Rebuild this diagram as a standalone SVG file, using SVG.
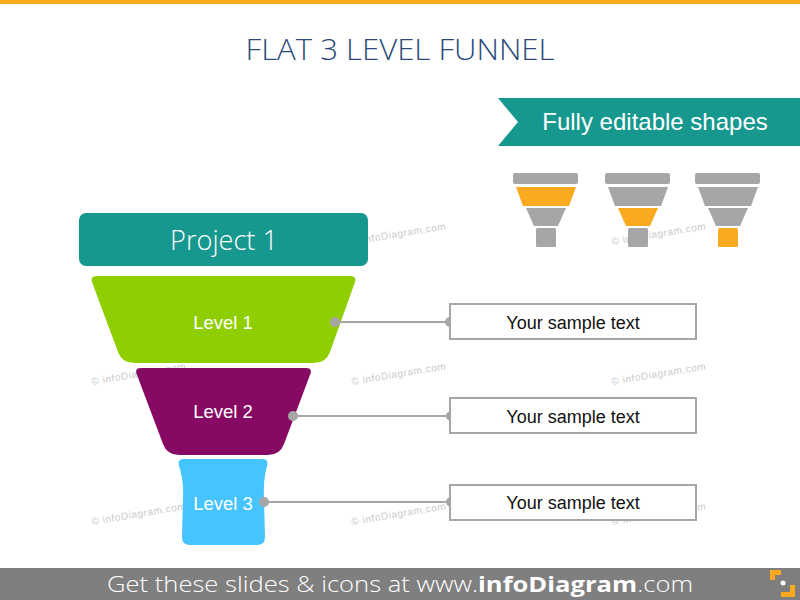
<svg xmlns="http://www.w3.org/2000/svg" width="800" height="600" viewBox="0 0 800 600">
<defs>
<style>
.wm{font-family:"Liberation Sans",Arial,sans-serif;font-size:10px;fill:#c9c9c9;letter-spacing:0.6px}
.lbl{font-family:"Liberation Sans",Arial,sans-serif;font-size:18.5px;fill:#ffffff;text-anchor:middle}
.box{fill:#ffffff;stroke:#a6a6a6;stroke-width:2}
.btxt{font-family:"Liberation Sans",Arial,sans-serif;font-size:18px;fill:#111111;text-anchor:middle}
.conn{stroke:#a6a6a6;stroke-width:2;fill:none}
.dot{fill:#a6a6a6}
.g{fill:#a6a6a8}
.o{fill:#fbaa1f}
.light{font-family:"Open Sans","Liberation Sans",Arial,sans-serif;font-weight:300}
</style>
</defs>
<rect x="0" y="0" width="800" height="600" fill="#ffffff"/>
<rect x="0" y="0" width="800" height="4" fill="#fbaa1f"/>

<g id="watermarks">
<text class="wm" transform="translate(92,385) rotate(-9.5)">© infoDiagram.com</text>
<text class="wm" transform="translate(352,385) rotate(-9.5)">© infoDiagram.com</text>
<text class="wm" transform="translate(612,385) rotate(-9.5)">© infoDiagram.com</text>
<text class="wm" transform="translate(92,525) rotate(-9.5)">© infoDiagram.com</text>
<text class="wm" transform="translate(352,525) rotate(-9.5)">© infoDiagram.com</text>
<text class="wm" transform="translate(612,525) rotate(-9.5)">© infoDiagram.com</text>
<text class="wm" transform="translate(352,245) rotate(-9.5)">© infoDiagram.com</text>
<text class="wm" transform="translate(612,245) rotate(-9.5)">© infoDiagram.com</text>
</g>

<text id="title" class="light" x="400" y="60" font-size="30" fill="#2b4a7a" text-anchor="middle" textLength="309" lengthAdjust="spacingAndGlyphs">FLAT 3 LEVEL FUNNEL</text>

<g id="banner">
<polygon points="498,98 800,98 800,146 498,146 518,122" fill="#17988f"/>
<text x="655" y="130" font-family="'Liberation Sans',Arial,sans-serif" font-size="24" fill="#ffffff" text-anchor="middle">Fully editable shapes</text>
</g>

<g id="small-funnel-1">
<rect class="g" x="513" y="173" width="65" height="11" rx="2"/>
<path class="o" d="M516,187 L576,187 L569,206 L523,206 Z"/>
<path class="g" d="M526,208 L566,208 L558,226 L534,226 Z"/>
<rect class="g" x="536" y="228" width="20" height="19" rx="1.5"/>
</g>
<g id="small-funnel-2" transform="translate(92,0)">
<rect class="g" x="513" y="173" width="65" height="11" rx="2"/>
<path class="g" d="M516,187 L576,187 L569,206 L523,206 Z"/>
<path class="o" d="M526,208 L566,208 L558,226 L534,226 Z"/>
<rect class="g" x="536" y="228" width="20" height="19" rx="1.5"/>
</g>
<g id="small-funnel-3" transform="translate(182,0)">
<rect class="g" x="513" y="173" width="65" height="11" rx="2"/>
<path class="g" d="M516,187 L576,187 L569,206 L523,206 Z"/>
<path class="g" d="M526,208 L566,208 L558,226 L534,226 Z"/>
<rect class="o" x="536" y="228" width="20" height="19" rx="1.5"/>
</g>

<g id="project">
<rect x="79" y="213" width="289" height="53" rx="7" fill="#17988f"/>
<text class="light" x="224" y="250" font-size="27" fill="#ffffff" text-anchor="middle" textLength="108" lengthAdjust="spacingAndGlyphs">Project 1</text>
</g>

<g id="level1">
<path d="M97,276 L350,276 Q357,276 355,282 L330,352 Q326,363 314,363 L134,363 Q122,363 118,352 L92,282 Q90,276 97,276 Z" fill="#8fce00"/>
<text class="lbl" x="223" y="329">Level 1</text>
</g>
<g id="level2">
<path d="M141,368 L306,368 Q313,368 310,375 L284,444 Q280,455 268,455 L179,455 Q167,455 163,444 L137,375 Q134,368 141,368 Z" fill="#860a64"/>
<text class="lbl" x="223" y="418">Level 2</text>
</g>
<g id="level3">
<path d="M184,459 L262,459 Q269,459 267,466 Q263,480 264,500 L265,537 Q265,545 257,545 L190,545 Q182,545 182,537 L183,500 Q184,480 179,466 Q177,459 184,459 Z" fill="#45c4ff"/>
<text class="lbl" x="223" y="510">Level 3</text>
</g>

<g id="connectors">
<line class="conn" x1="335" y1="322" x2="450" y2="322"/>
<circle class="dot" cx="335" cy="322" r="5"/>
<circle class="dot" cx="450" cy="322" r="5"/>
<line class="conn" x1="293" y1="416" x2="451" y2="416"/>
<circle class="dot" cx="293" cy="416" r="5"/>
<circle class="dot" cx="451" cy="416" r="5"/>
<line class="conn" x1="264" y1="502" x2="451" y2="502"/>
<circle class="dot" cx="264" cy="502" r="5"/>
<circle class="dot" cx="451" cy="502" r="5"/>
</g>

<g id="box1">
<rect class="box" x="450" y="304" width="246" height="35"/>
<text class="btxt" x="573" y="329">Your sample text</text>
</g>
<g id="box2">
<rect class="box" x="450" y="398" width="246" height="35"/>
<text class="btxt" x="573" y="423">Your sample text</text>
</g>
<g id="box3">
<rect class="box" x="450" y="485" width="246" height="35"/>
<text class="btxt" x="573" y="509">Your sample text</text>
</g>

<g id="footer">
<rect x="0" y="568" width="800" height="32" fill="#7f7f7f"/>
<text x="107" y="592" class="light" font-size="22" fill="#ffffff" textLength="586" lengthAdjust="spacingAndGlyphs">Get these slides &amp; icons at www.<tspan font-weight="bold">infoDiagram</tspan>.com</text>
<path d="M770,570 H781 V575 H775 V580 H770 Z" fill="#fbaa1f"/>
<path d="M795,597 H781 V592 H790 V585 H795 Z" fill="#fbaa1f"/>
<circle cx="783" cy="583" r="2.5" fill="#ffffff"/>
</g>
</svg>
